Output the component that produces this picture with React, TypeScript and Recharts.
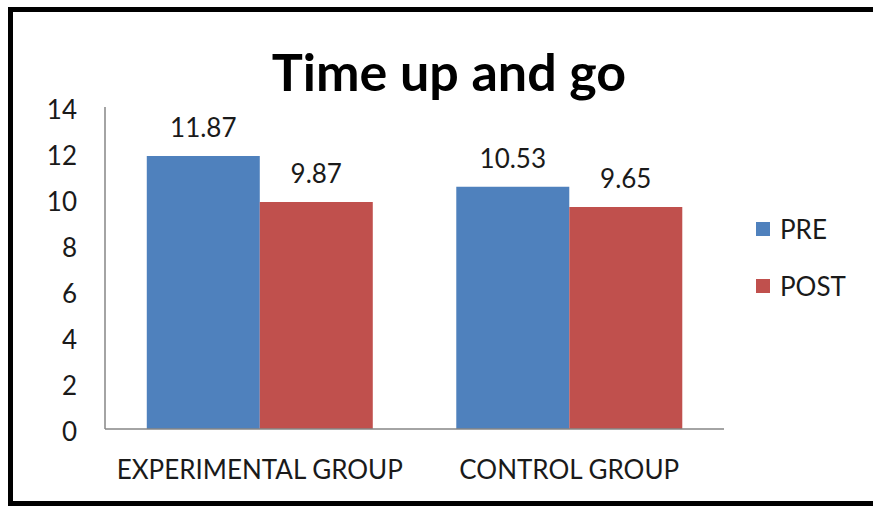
import { Bar, BarChart, LabelList, Legend, XAxis, YAxis } from "recharts";

const groups = ["EXPERIMENTAL GROUP", "CONTROL GROUP"];
const preValues = [11.87, 10.53];
const postValues = [9.87, 9.65];
const yTicks = [0, 2, 4, 6, 8, 10, 12, 14];

const series = [
  { key: "PRE", color: "#4F81BD" },
  { key: "POST", color: "#C0504D" },
];

const data = groups.map((g, i) => ({ group: g, PRE: preValues[i], POST: postValues[i] }));

const FONT = "Lato, 'Open Sans', sans-serif";
const AXIS = "#868686";

function LegendBox() {
  return (
    <div style={{ width: 100, fontFamily: FONT, fontSize: 26, color: "#1a1a1a" }}>
      {series.map((s) => (
        <div key={s.key} style={{ display: "flex", alignItems: "center", height: 30, marginBottom: 27 }}>
          <span style={{ display: "inline-block", width: 14, height: 14, background: s.color, marginRight: 10 }} />
          <span>{s.key}</span>
        </div>
      ))}
    </div>
  );
}

export default function App() {
  return (
    <div style={{ position: "absolute", left: 0, top: 0, width: 873, height: 506, background: "#fff", overflow: "hidden" }}>
      <div
        style={{
          position: "absolute",
          left: 8,
          top: 7,
          width: 900,
          height: 499,
          boxSizing: "border-box",
          borderTop: "5px solid #000",
          borderLeft: "5px solid #000",
          borderBottom: "5px solid #000",
        }}
      />
      <div
        style={{
          position: "absolute",
          left: 0,
          width: 898,
          top: 45,
          textAlign: "center",
          fontFamily: FONT,
          fontWeight: 700,
          fontSize: 52,
          lineHeight: "52px",
          color: "#000",
        }}
      >
        Time up and go
      </div>
      <div style={{ position: "absolute", left: 0, top: 0 }}>
        <BarChart
          width={873}
          height={506}
          data={data}
          margin={{ top: 107, right: 49, bottom: 17, left: 45 }}
          barCategoryGap="13.5%"
          barGap={0}
        >
          <XAxis
            dataKey="group"
            height={60}
            axisLine={{ stroke: AXIS, strokeWidth: 1.5 }}
            tickLine={false}
            tickSize={0}
            tickMargin={32}
            tick={{ fill: "#1a1a1a", fontSize: 26, fontFamily: FONT }}
          />
          <YAxis
            width={60}
            domain={[0, 14]}
            ticks={yTicks}
            interval={0}
            axisLine={{ stroke: AXIS, strokeWidth: 1.5 }}
            tickLine={false}
            tickSize={0}
            tickMargin={28}
            tick={{ fill: "#1a1a1a", fontSize: 26, fontFamily: FONT, dy: 3 }}
          />
          <Legend
            layout="vertical"
            align="right"
            verticalAlign="middle"
            wrapperStyle={{ left: 756, top: 214, right: "auto" }}
            content={() => <LegendBox />}
          />
          {series.map((s) => (
            <Bar key={s.key} dataKey={s.key} fill={s.color} isAnimationActive={false}>
              <LabelList
                dataKey={s.key}
                position="top"
                offset={19}
                fill="#1a1a1a"
                fontSize={26}
                fontFamily={FONT}
              />
            </Bar>
          ))}
        </BarChart>
      </div>
    </div>
  );
}
